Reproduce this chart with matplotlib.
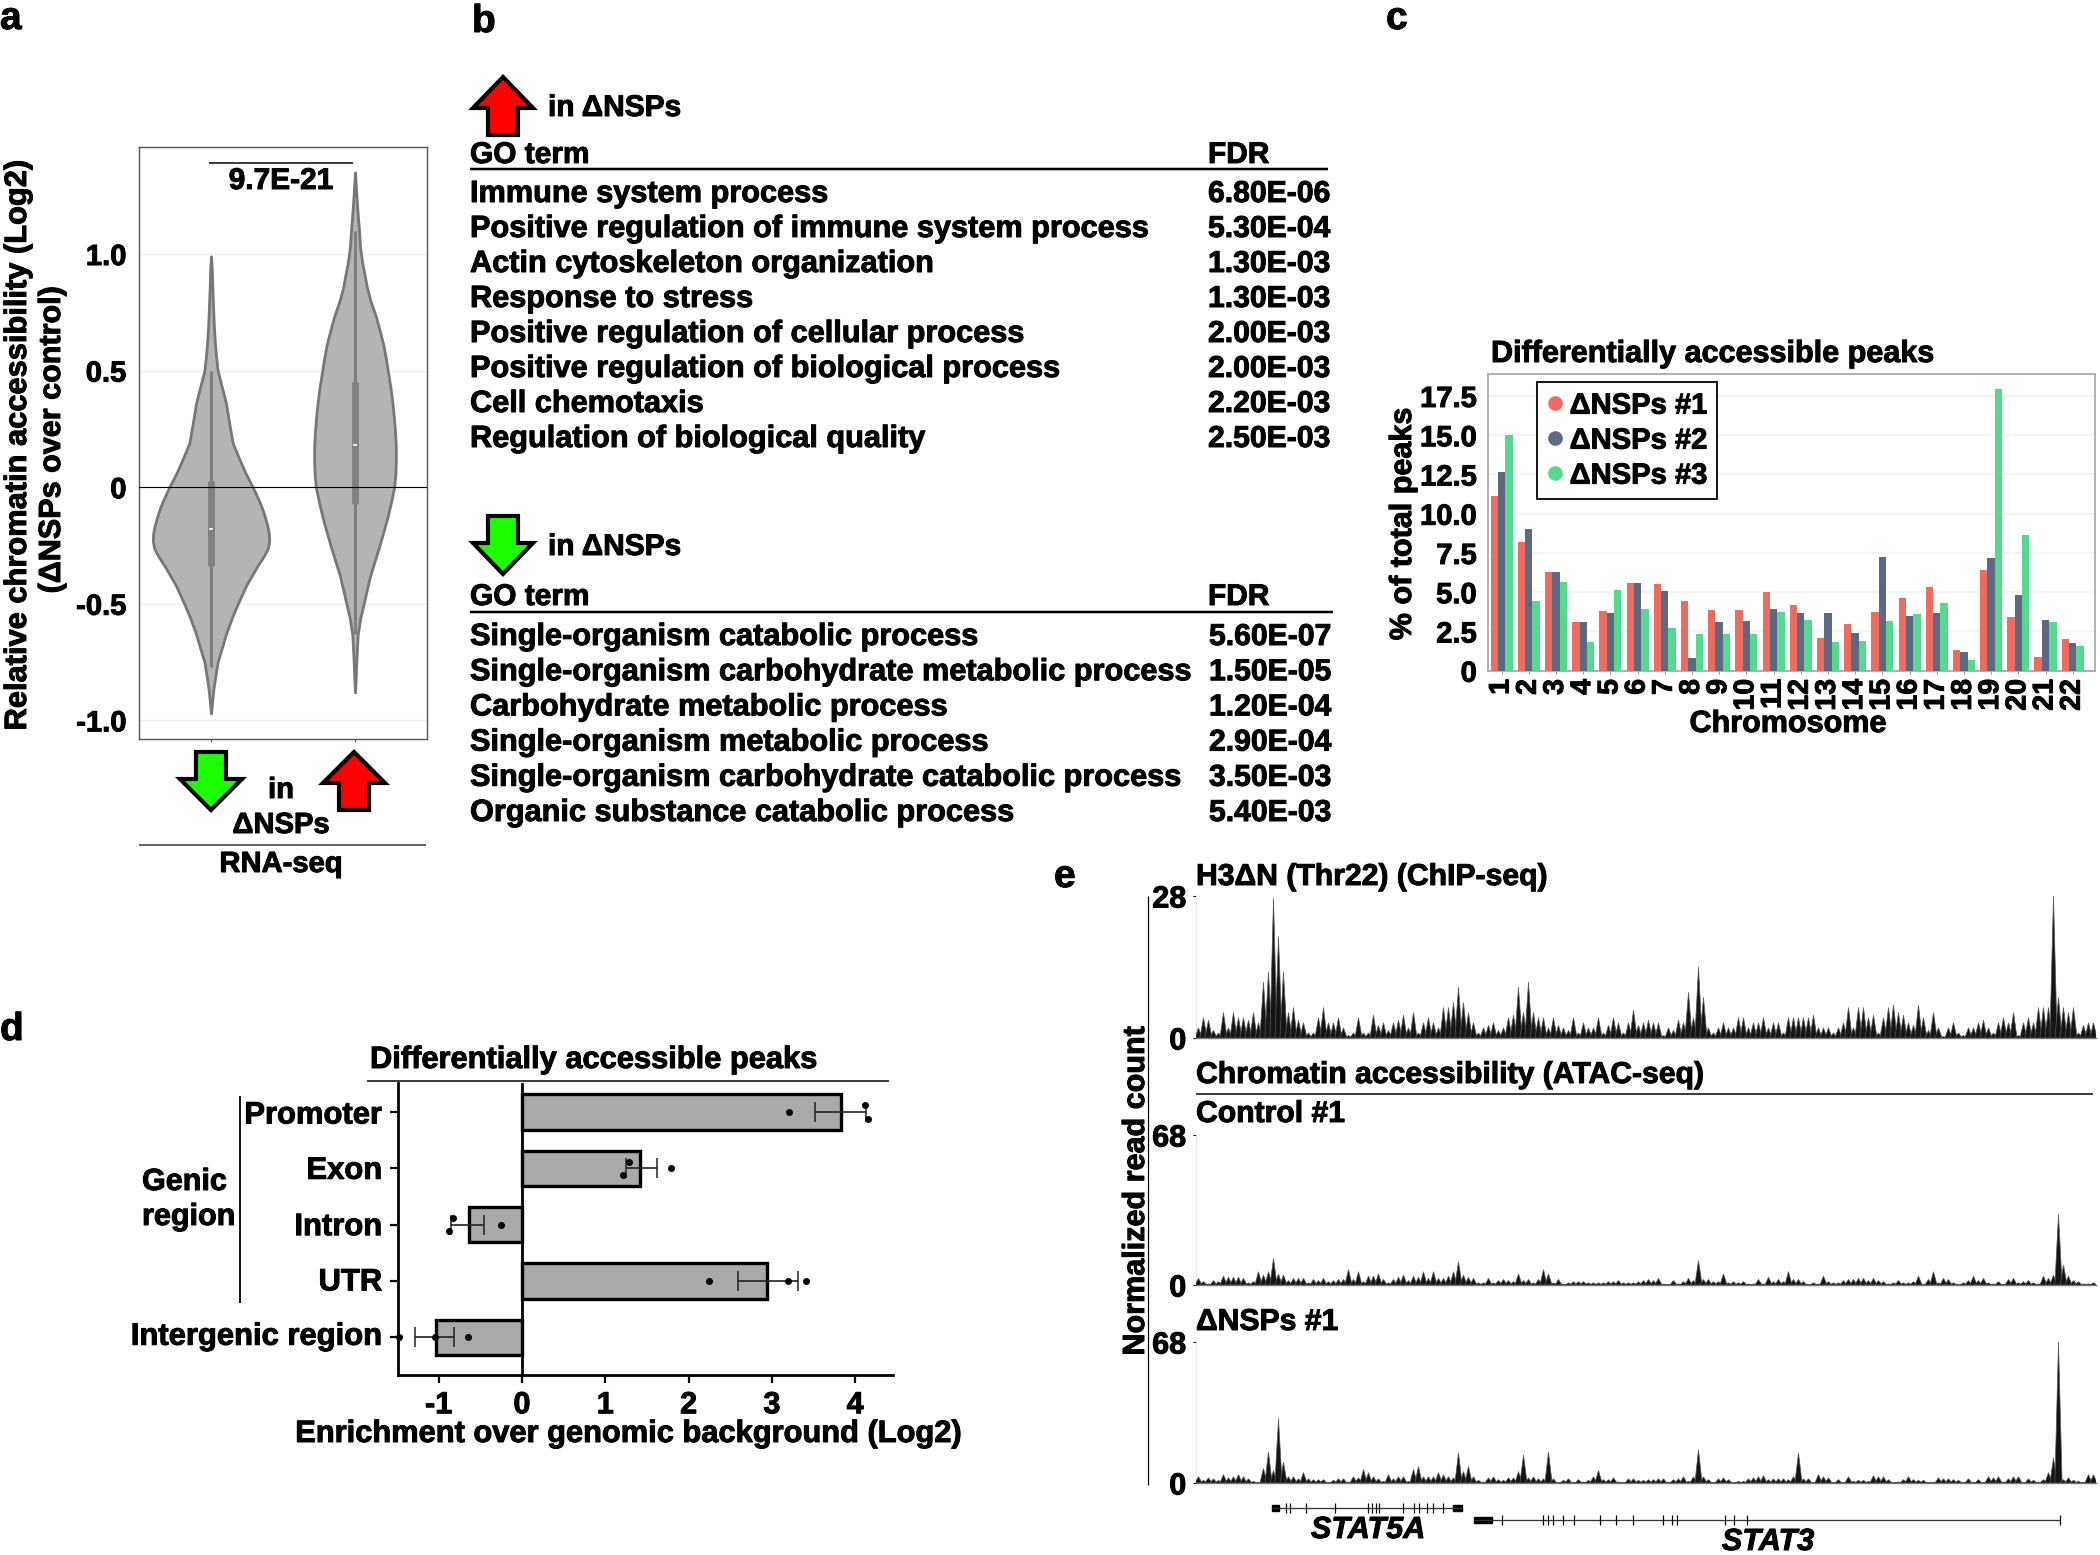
import numpy as np
import matplotlib
matplotlib.use("Agg")
import matplotlib.pyplot as plt
import matplotlib.patheffects as pe
from matplotlib.collections import PolyCollection
from matplotlib.lines import Line2D
from matplotlib.patches import Polygon, Rectangle
from matplotlib.text import Text
from matplotlib.transforms import ScaledTranslation

plt.rcParams['font.family'] = ['Liberation Sans', 'DejaVu Sans']
plt.rcParams['font.weight'] = 'bold'

W, H = 2100, 1555

# ---------- panel a ----------
violin_down_y = [0.99,0.93,0.86,0.78,0.70,0.61,0.55,0.50,0.43,0.36,0.28,0.19,0.12,0.06,0.0,-0.06,-0.10,-0.14,-0.17,-0.20,-0.23,-0.26,-0.29,-0.34,-0.42,-0.50,-0.56,-0.63,-0.69,-0.75,-0.81,-0.87,-0.92,-0.97]
violin_down_w = [0.00,0.006,0.009,0.014,0.019,0.028,0.037,0.046,0.075,0.104,0.125,0.150,0.197,0.240,0.290,0.335,0.360,0.380,0.393,0.402,0.404,0.396,0.372,0.320,0.245,0.186,0.145,0.104,0.075,0.046,0.030,0.016,0.008,0.00]
violin_up_y = [1.35,1.29,1.23,1.16,1.10,1.03,0.96,0.90,0.86,0.80,0.73,0.67,0.61,0.55,0.49,0.42,0.36,0.30,0.24,0.18,0.12,0.06,0.0,-0.07,-0.13,-0.19,-0.25,-0.32,-0.38,-0.44,-0.50,-0.56,-0.63,-0.69,-0.75,-0.82,-0.88]
violin_up_w = [0.00,0.006,0.012,0.02,0.028,0.035,0.051,0.07,0.081,0.107,0.146,0.172,0.197,0.215,0.230,0.248,0.260,0.270,0.278,0.283,0.284,0.281,0.272,0.248,0.225,0.198,0.170,0.135,0.105,0.082,0.060,0.037,0.019,0.014,0.009,0.005,0.00]
violin_box = [(-0.34, -0.18, 0.025, -0.77, 0.50), (-0.07, 0.18, 0.45, -0.63, 1.10)]
a_ticks = [1.0, 0.5, 0, -0.5, -1.0]
a_ticklabels = ['1.0', '0.5', '0', '-0.5', '-1.0']

# ---------- panel b ----------
go_up_terms = ['Immune system process', 'Positive regulation of immune system process',
               'Actin cytoskeleton organization', 'Response to stress',
               'Positive regulation of cellular process', 'Positive regulation of biological process',
               'Cell chemotaxis', 'Regulation of biological quality']
go_up_fdr = ['6.80E-06', '5.30E-04', '1.30E-03', '1.30E-03', '2.00E-03', '2.00E-03', '2.20E-03', '2.50E-03']
go_down_terms = ['Single-organism catabolic process', 'Single-organism carbohydrate metabolic process',
                 'Carbohydrate metabolic process', 'Single-organism metabolic process',
                 'Single-organism carbohydrate catabolic process', 'Organic substance catabolic process']
go_down_fdr = ['5.60E-07', '1.50E-05', '1.20E-04', '2.90E-04', '3.50E-03', '5.40E-03']

# ---------- panel c ----------
chromosomes = [str(i) for i in range(1, 23)]
nsps1 = [11.15,8.2,6.3,3.1,3.8,5.6,5.5,4.45,3.85,3.85,5.0,4.2,2.1,3.0,3.75,4.6,5.3,1.35,6.4,3.4,0.85,2.0]
nsps2 = [12.65,9.05,6.3,3.1,3.65,5.6,5.1,0.8,3.1,3.15,3.9,3.65,3.7,2.4,7.25,3.5,3.7,1.2,7.2,4.8,3.2,1.75]
nsps3 = [15.0,4.45,5.65,1.8,5.15,3.95,2.75,2.35,2.35,2.35,3.75,3.2,1.8,1.9,3.15,3.6,4.3,0.65,17.95,8.65,3.1,1.6]
c_ticks = [0, 2.5, 5, 7.5, 10, 12.5, 15, 17.5]
c_ticklabels = ['0', '2.5', '5.0', '7.5', '10.0', '12.5', '15.0', '17.5']

# ---------- panel d ----------
regions = ['Promoter', 'Exon', 'Intron', 'UTR', 'Intergenic region']
enrich = [3.83, 1.42, -0.64, 2.94, -1.035]
err_low = [3.52, 1.25, -0.85, 2.59, -1.28]
err_high = [4.13, 1.62, -0.45, 3.31, -0.81]
pts_x = [3.21, 4.12, 4.15, 1.79, 1.28, 1.21, -0.25, -0.825, -0.88, 2.24, 3.19, 3.41, -1.48, -1.05, -0.65]
pts_row = [0, -0.12, 0.12, 1, 0.88, 1.12, 2, 1.88, 2.12, 3, 3, 3, 4, 4, 4]

# ---------- panel e ----------
chip = [2,4,3.5,1.5,1,5,2,5,4,4,3.5,5,3,11,13,27.5,20,13,5,6,3.5,3,1,1,4,6,3,3,4,2,0.5,1,4,1,1,4.5,2.5,3,1.5,3,3.5,4.5,2,5,1,3,4,3,2,6,6,7,10,7,5,3,1,2,2.5,3,1.5,2,4,4.5,10,5,11,5,4,4,2,4,2.5,2,1.5,4,1,3,2,2,4,1,2.5,4,3,1,3,5.5,2.5,3,3.5,3,
        3,0.5,2,1.5,3.5,3,9,4,14,8,2,1,2,3,2,2,4,4,2,3,3,4,2,3,3,1,4,4,4,4,4,4.5,2,2,2,1,2,3,6,2,6,6,4,4.5,1,4,6,6.5,5,4.5,3,2.5,6.5,4,1.5,5,2,0.3,2,3,1,0.5,2,2,3,3.5,2,1,3,4,3,5,0.5,3,4,3,6,6,6,28,8,6,5,6,1,2.5,3,3]
control = [3,1.5,0.5,2,1.5,4,3.5,3.5,3.5,3,1,1.5,6,4.5,6,12,5,4.5,2,3,3,3,1,2.5,2,3,1.5,2,2.5,2.5,7,2.5,6,1.5,4,4,5,2.5,1,2.5,3.5,4.5,2,4,3.5,6,3,6,3,3,4,6,10.5,4.5,3.5,3,1,1,3,1,2,2.5,2,1.5,5,2,2.5,1,2.5,7,5,1,2.5,0.5,1,1.5,1.5,1.5,1,1,1,1,1.5,1.5,2,1,1,1,1.5,2,2.5,
           2,3,0.3,0.3,2,0.5,1.5,3,2,11,2.5,2.5,1.5,1.5,5,1,1.5,1,1.5,0.5,0.5,2.5,0.5,3.5,1.5,2.5,1.5,6,2.5,2.5,1.5,0.3,1,0.5,4,1.5,1,1,2,2.5,2.5,3,3,2,3,2,1.5,0.5,1,2,1,1,1.5,4,0.3,2.5,6,1,3,2.5,1,0.3,1,2,4,2,3,1,0.5,1.5,0.3,2.5,3,1,1.5,2,1,0.5,4,3,4.5,32,9,4,2,1.5,0.5,0.5,1,0.3]
nsps_track = [3,1.3,2.5,2,1.3,4,2.5,3,4,3,2,0.8,0.3,7,15,6,31,10,3,3,2,5,2,1.6,1.6,1.6,0.3,1.3,2,2,0.5,3,2.5,6.5,5,3,2,0.8,4,2,3,3,0.8,6.5,8,3,3,3,5,4,3,2.5,14.5,5.5,8,3,1.3,0.5,2.5,3,1.6,1.3,2.5,2.5,5.5,13.5,2.5,3,2,2,15,2,0.3,1.3,2,0.3,1.6,0.5,1.3,3,6,1.6,1.6,2.5,0.5,0.3,2,2,1.3,1.3,1.6,
              1.6,2,2,0.5,1.6,2,3,0.8,3,16,3,1.6,0.3,2,2.5,1.6,0.3,0.8,0.8,2,2.5,3,3.5,1.6,2,2,2,1.6,3,14.5,2,2,0.3,4,3,2.5,0.3,1.6,0.3,3,0.8,1.3,1.3,0.8,3.5,3,3,1.6,0.3,0.5,1.6,3,1.6,1.3,1.3,0.3,0.3,2.5,2,2,1.6,1.3,0.3,2,0.3,1.6,0.3,3,2.5,3,0.5,2,3,3,0.3,2,1.3,0.5,1.6,5,12,68,1.6,2.5,1.3,0.8,0.3,4,4]
stat5a_exons = [1286,1290,1306,1335,1368,1372,1376,1379,1403,1414,1419,1427,1433,1443]
stat3_exons = [1502,1543,1548,1553,1563,1574,1600,1616,1633,1663,1672,1677,1725,1734,1747,2060]

# ---------------------------------------------------------------
fig = plt.figure(figsize=(W/100, H/100), dpi=100, facecolor='white')

def make_ax(l, t, r, b):
    return fig.add_axes([l/W, 1-b/H, (r-l)/W, (b-t)/H])

ov = fig.add_axes([0, 0, 1, 1], zorder=10)
ov.set_xlim(0, W); ov.set_ylim(H, 0); ov.axis('off'); ov.patch.set_alpha(0)

def T(x, y, s, size=22, ha='left', va='center', **kw):
    return ov.text(x, y, s, fontsize=size, ha=ha, va=va, fontweight='bold', color='black', **kw)

def L(x0, y0, x1, y1, lw=1.5, c='black'):
    ov.plot([x0, x1], [y0, y1], color=c, lw=lw*0.72, solid_capstyle='butt')

def arrow(cx, top, bottom, halfw, shaft, head, up, color):
    if up:
        pts = [(cx, top), (cx+halfw, top+head), (cx+shaft, top+head), (cx+shaft, bottom),
               (cx-shaft, bottom), (cx-shaft, top+head), (cx-halfw, top+head)]
    else:
        pts = [(cx, bottom), (cx+halfw, bottom-head), (cx+shaft, bottom-head), (cx+shaft, top),
               (cx-shaft, top), (cx-shaft, bottom-head), (cx-halfw, bottom-head)]
    ov.add_patch(Polygon(pts, closed=True, facecolor=color, edgecolor='black', lw=3.0, joinstyle='miter'))

# panel letters
T(0, 19, 'a', 28); T(472, 22, 'b', 28); T(1386, 19, 'c', 28); T(0, 1030, 'd', 28); T(1054, 877, 'e', 28)

# ---------- a ----------
axa = make_ax(139, 147, 427, 739)
axa.set_xlim(-0.5, 1.5); axa.set_ylim(-1.08, 1.459)
for pos, (vy, vw), box in zip([0, 1], [(violin_down_y, violin_down_w), (violin_up_y, violin_up_w)], violin_box):
    vy = np.array(vy); vw = np.array(vw)
    axa.fill_betweenx(vy, pos-vw, pos+vw, facecolor='#b4b4b4', edgecolor='#777777', lw=2.0, zorder=2)
    q1, med, q3, lo, hi = box
    axa.plot([pos, pos], [lo, hi], color='#808080', lw=2.2, zorder=3, solid_capstyle='butt')
    axa.plot([pos, pos], [q1, q3], color='#808080', lw=5, zorder=3, solid_capstyle='butt')
    axa.plot([pos-0.012, pos+0.012], [med, med], color='white', lw=1.2, zorder=4, solid_capstyle='butt')
axa.axhline(0, color='black', lw=0.8, zorder=5)
axa.set_yticks(a_ticks); axa.set_yticklabels(a_ticklabels, fontsize=21, fontweight='bold')
axa.set_xticks([0, 1]); axa.set_xticklabels([])
axa.tick_params(axis='y', length=0, pad=9)
axa.tick_params(axis='x', length=2, width=0.8, color='#555555')
axa.yaxis.grid(True, color='#efefef', lw=1); axa.set_axisbelow(True)
for s in axa.spines.values():
    s.set_color('#555555'); s.set_linewidth(1.0)
L(209, 163, 353, 163, 1.5)
T(281, 181, '9.7E-21', 21.5, ha='center')
T(18, 445, 'Relative chromatin accessibility (Log2)', 22.2, ha='center', rotation=90)
T(52, 440, '(\u0394NSPs over control)', 22, ha='center', rotation=90)
arrow(211, 752, 810, 31, 15, 31, False, '#1cff00')
arrow(354, 752, 810, 31, 15, 31, True, '#ff0000')
T(281, 790, 'in', 21, ha='center'); T(281, 825, '\u0394NSPs', 21, ha='center')
L(139, 845, 426, 845, 1.5, '#333333')
T(281, 864, 'RNA-seq', 21, ha='center')

# ---------- b ----------
arrow(503, 77, 135, 30, 15, 31, True, '#ff0000')
T(548, 108, 'in \u0394NSPs', 21.5)
T(470, 155, 'GO term', 21.5); T(1208, 155, 'FDR', 21.5)
L(470, 169, 1328, 169, 2.5)
for i, (t, f) in enumerate(zip(go_up_terms, go_up_fdr)):
    y = 194 + i*35
    T(470, y, t, 22.1); T(1208, y, f, 21.7)
arrow(503, 516, 574, 30, 15, 31, False, '#1cff00')
T(548, 547, 'in \u0394NSPs', 21.5)
T(470, 597, 'GO term', 21.5); T(1208, 597, 'FDR', 21.5)
L(470, 612, 1333, 612, 2.5)
for i, (t, f) in enumerate(zip(go_down_terms, go_down_fdr)):
    y = 637 + i*35.2
    T(470, y, t, 22.1); T(1209, y, f, 21.7)

# ---------- c ----------
axc = make_ax(1488, 374, 2095, 670.7)
xc = np.arange(22)
bw = 0.27
axc.bar(xc-bw, nsps1, bw, color='#ee6b5f', zorder=3)
axc.bar(xc, nsps2, bw, color='#5b6a80', zorder=3)
axc.bar(xc+bw, nsps3, bw, color='#55d88f', zorder=3)
axc.set_xlim(-0.5, 21.82); axc.set_ylim(0, 18.9)
axc.set_yticks(c_ticks); axc.set_yticklabels(c_ticklabels, fontsize=21, fontweight='bold')
axc.set_xticks(xc); axc.set_xticklabels(chromosomes, rotation=90, fontsize=20.5, fontweight='bold', va='top', ha='center')
axc.tick_params(axis='y', length=0, pad=8)
axc.tick_params(axis='x', length=2, width=0.8, color='#999999', pad=4)
axc.yaxis.grid(True, color='#f2f2f2', lw=1.2); axc.set_axisbelow(True)
for s in axc.spines.values():
    s.set_color('#aaaaaa'); s.set_linewidth(1.3)
handles = [Line2D([], [], ls='', marker='o', ms=9.5, color=c, label=n)
           for c, n in zip(['#ee6b5f', '#5b6a80', '#55d88f'], ['\u0394NSPs #1', '\u0394NSPs #2', '\u0394NSPs #3'])]
leg = axc.legend(handles=handles, loc='upper left', bbox_to_anchor=((1537-1488)/607, (670.7-382)/296.7),
                 prop={'family': ['Liberation Sans', 'DejaVu Sans'], 'weight': 'bold', 'size': 21},
                 frameon=True, fancybox=False, edgecolor='black', framealpha=1,
                 borderpad=0.33, labelspacing=0.24, handletextpad=0.24, handlelength=0.55, borderaxespad=0)
leg.get_frame().set_linewidth(1.3)
leg.set_zorder(6)
T(1491, 354, 'Differentially accessible peaks', 22)
T(1788, 724, 'Chromosome', 22, ha='center')
T(1403, 524, '% of total peaks', 22, ha='center', rotation=90)

# ---------- d ----------
axd = make_ax(397.6, 1083, 893, 1375)
yd = np.arange(len(regions))
axd.barh(yd, enrich, height=0.63, facecolor='#a9a9a9', edgecolor='black', lw=2.4, zorder=2)
for y, v, lo, hi in zip(yd, enrich, err_low, err_high):
    axd.errorbar([(lo+hi)/2], [y], xerr=[[(hi-lo)/2]], color='#222222', lw=1.2, capsize=7.2, capthick=1.1, zorder=4)
axd.scatter(pts_x, pts_row, s=16, color='black', zorder=5, clip_on=False)
axd.axvline(0, color='black', lw=2.0, zorder=3)
axd.set_xlim(-1.493, 4.454); axd.set_ylim(4.67, -0.515)
axd.set_yticks(yd); axd.set_yticklabels(regions, fontsize=22.3, fontweight='bold')
axd.set_xticks([-1, 0, 1, 2, 3, 4]); axd.set_xticklabels(['-1', '0', '1', '2', '3', '4'], fontsize=22, fontweight='bold')
axd.tick_params(axis='both', length=6, width=1.6, color='black')
axd.tick_params(axis='y', pad=5)
axd.tick_params(axis='x', pad=5)
for lab, up_px in zip(axd.get_yticklabels(), [0, 1, 1, 2, 4]):
    lab.set_transform(lab.get_transform() + ScaledTranslation(0, up_px/100, fig.dpi_scale_trans))
for k in ['top', 'right']:
    axd.spines[k].set_visible(False)
for k in ['left', 'bottom']:
    axd.spines[k].set_linewidth(2.0)
T(370, 1060, 'Differentially accessible peaks', 22.2)
L(367, 1081, 889, 1081, 1.5)
T(629, 1434, 'Enrichment over genomic background (Log2)', 22.2, ha='center')
T(142, 1182, 'Genic', 22); T(142, 1217, 'region', 22)
L(240, 1096, 240, 1303, 1.8)

# ---------- e ----------
def track(t, b, values, ymax):
    ax = make_ax(1196, t, 2096, b)
    v = np.array(values, dtype=float)
    x = np.arange(len(v))
    # every bin is a narrow spike: wider than its bin at the foot, pointed at the top
    polys = [[(xi-0.72, 0), (xi, vi), (xi+0.72, 0)] for xi, vi in zip(x, v)]
    ax.add_collection(PolyCollection(polys, facecolors='#151515', edgecolors='#555555', linewidths=0.5, zorder=3))
    ax.set_xlim(-0.5, 179.5); ax.set_ylim(0, ymax)
    ax.set_xticks([]); ax.set_yticks([0, ymax])
    ax.set_yticklabels(['0', str(ymax)], fontsize=22, fontweight='bold')
    ax.tick_params(axis='y', length=2, width=0.8, pad=5)
    for k in ['top', 'right']:
        ax.spines[k].set_visible(False)
    ax.spines['left'].set_color('#e6e6e6'); ax.spines['left'].set_linewidth(0.8)
    ax.spines['bottom'].set_color('#777777'); ax.spines['bottom'].set_linewidth(1.0)
    return ax

track(896, 1038, chip, 28)
track(1135, 1285, control, 68)
track(1342, 1483, nsps_track, 68)
L(1148, 896, 1148, 1485, 1.2)
T(1136, 1191, 'Normalized read count', 22, ha='center', rotation=90)
T(1196, 877, 'H3\u0394N (Thr22) (ChIP-seq)', 21.7)
T(1196, 1075, 'Chromatin accessibility (ATAC-seq)', 21.7)
L(1196, 1094, 2093, 1094, 1.5)
T(1196, 1114, 'Control #1', 21.7)
T(1196, 1322, '\u0394NSPs #1', 21.7)

# genes
L(1272, 1508, 1462, 1508, 1.3, '#333333')
ov.add_patch(Rectangle((1272, 1505), 7, 6, color='black'))
ov.add_patch(Rectangle((1453, 1505), 9, 6, color='black'))
for e in stat5a_exons:
    L(e, 1503, e, 1513, 1.2)
L(1474, 1520, 2060, 1520, 1.3, '#333333')
ov.add_patch(Rectangle((1474, 1517), 18, 6, color='black'))
for e in stat3_exons:
    L(e, 1515, e, 1525, 1.2)
T(1368, 1530, 'STAT5A', 22, ha='center', style='italic')
T(1768, 1542, 'STAT3', 22, ha='center', style='italic')

# the reference type is heavier than Liberation Sans Bold
for txt in fig.findobj(Text):
    if txt.get_text():
        txt.set_path_effects([pe.withStroke(linewidth=0.7, foreground='black')])

fig.savefig('out.png', dpi=100, facecolor='white')
